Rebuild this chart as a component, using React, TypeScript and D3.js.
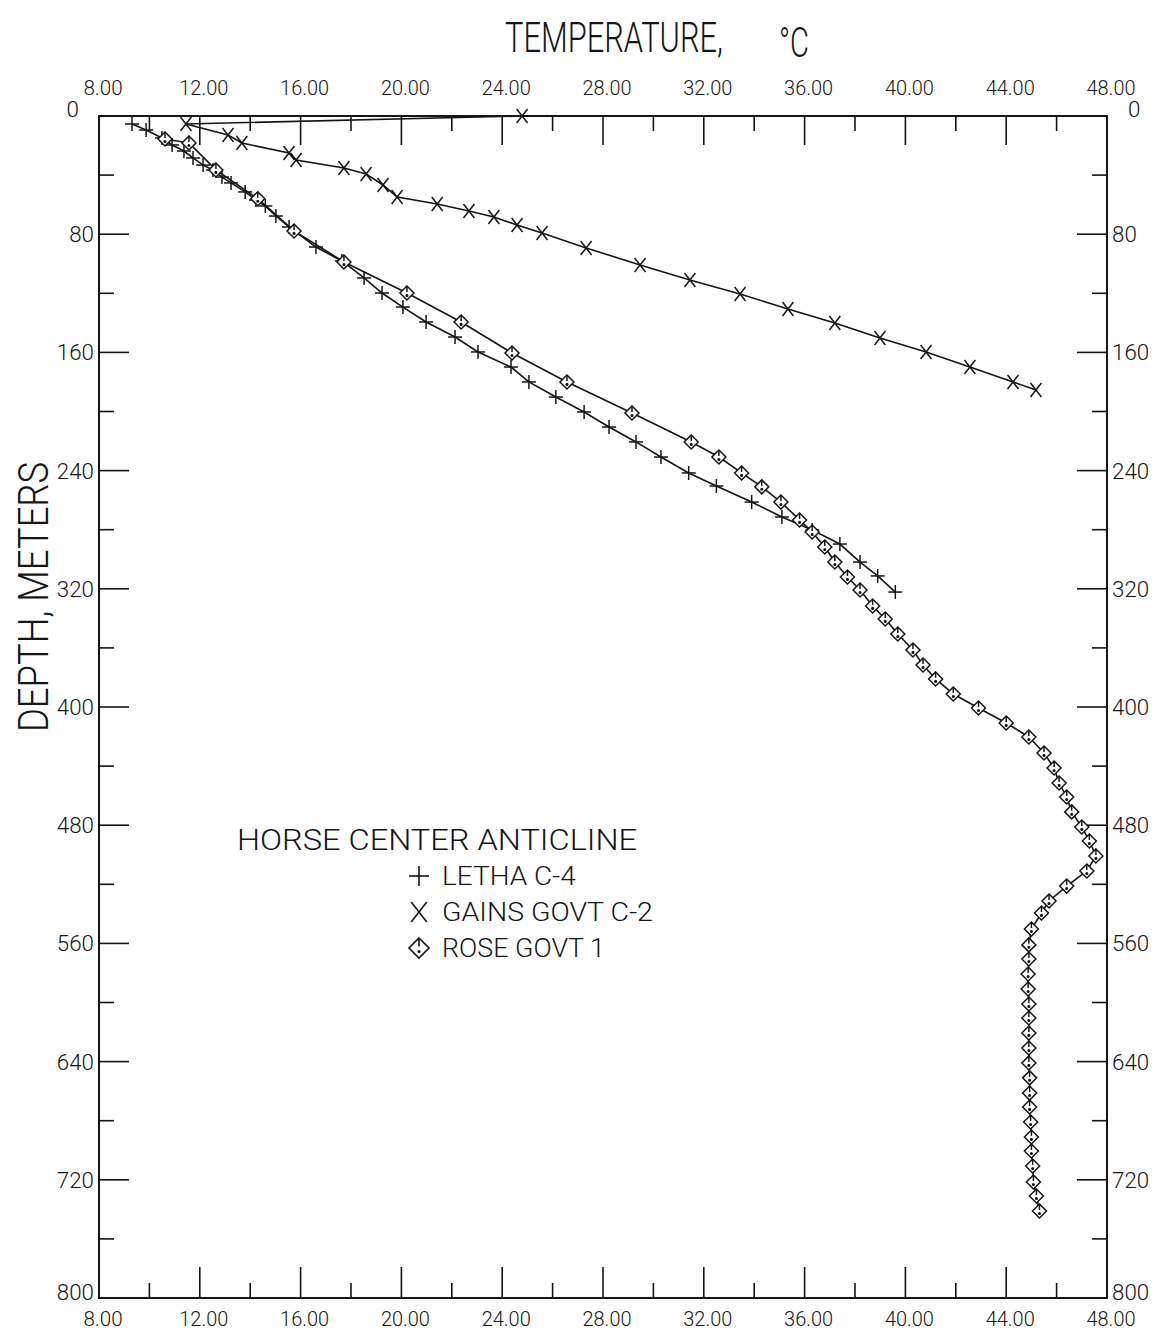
import React, { useLayoutEffect, useRef, useState } from 'react';
import * as d3 from 'd3';

// Temperature axis (°C): labelled major ticks and unlabelled minor ticks
const tempMajorTicks = [8, 12, 16, 20, 24, 28, 32, 36, 40, 44, 48];
const tempMinorTicks = [10, 14, 18, 22, 26, 30, 34, 38, 42, 46];
// Depth axis (m)
const depthMajorTicks = [0, 80, 160, 240, 320, 400, 480, 560, 640, 720, 800];
const depthMinorTicks = [40, 120, 200, 280, 360, 440, 520, 600, 680, 760];

// Well temperature logs: [temperature °C, depth m]
const lethaC4: [number, number][] = [
  [9.31, 5.4], [9.87, 9.5], [10.5, 14.9], [10.9, 19.6], [11.37, 23.7], [11.73, 28.4],
  [12.13, 33.2], [12.52, 36.5], [12.88, 41.3], [13.24, 45.3], [13.8, 51.4], [14.23, 56.9],
  [14.6, 60.9], [15.02, 67.7], [15.54, 75.1], [16.61, 88.7], [17.64, 98.1], [18.52, 109.6],
  [19.23, 119.8], [20.06, 129.3], [20.98, 139.4], [22.13, 149.6], [23.04, 159.7], [24.35, 169.9],
  [25.06, 180], [26.13, 190.2], [27.25, 200.3], [28.24, 210.5], [29.31, 220.6], [30.3, 230.8],
  [31.4, 241.6], [32.5, 250.4], [33.9, 261.3], [35.1, 271.4], [36.3, 280.2], [37.4, 289.7],
  [38.2, 301.9], [38.9, 311.3], [39.6, 322.2],
];

const gainsGovtC2: [number, number][] = [
  [24.79, 0], [11.45, 5.4], [13.12, 12.9], [13.67, 18.3], [15.54, 25], [15.82, 29.8],
  [17.72, 35.2], [18.6, 39.3], [19.27, 46.7], [19.83, 54.8], [21.42, 59.6], [22.68, 64.3],
  [23.67, 68.4], [24.59, 73.8], [25.58, 79.2], [27.33, 89.3], [29.47, 100.8], [31.45, 111],
  [33.44, 120.5], [35.34, 130.6], [37.2, 140.1], [38.99, 150.3], [40.82, 159.7], [42.56, 169.9],
  [44.27, 180], [45.18, 185.4],
];

const roseGovt1: [number, number][] = [
  [10.62, 15.6], [11.57, 18.3], [12.64, 36.5], [14.3, 56], [15.74, 77.8], [17.72, 98.8],
  [20.22, 119.8], [22.37, 139.4], [24.39, 160.4], [26.57, 180], [29.15, 201], [31.5, 220.6],
  [32.6, 230.8], [33.5, 241.6], [34.3, 251], [35.06, 261.3], [35.8, 273.4], [36.3, 281.6],
  [36.8, 291.7], [37.2, 301.9], [37.7, 312], [38.2, 320.8], [38.7, 331.6], [39.2, 340.4],
  [39.7, 350.6], [40.3, 361.4], [40.7, 371.6], [41.2, 381], [41.9, 391.2], [42.9, 400.7],
  [44.0, 410.8], [44.9, 420.3], [45.5, 431.1], [45.9, 441.3], [46.1, 451.4], [46.4, 460.9],
  [46.6, 471], [47.0, 481.2], [47.3, 490.7], [47.56, 500.8], [47.2, 511], [46.4, 521.2],
  [45.7, 531.3], [45.4, 539.4], [45.0, 550.3], [44.9, 561], [44.9, 570.6], [44.87, 580.7],
  [44.87, 590.9], [44.9, 601], [44.9, 610.5], [44.9, 620.6], [44.9, 630.8], [44.9, 640.9],
  [44.93, 651], [44.93, 661.3], [44.93, 670.7], [44.97, 680.9], [45.0, 691], [45.0, 700.5],
  [45.05, 710.7], [45.08, 721.5], [45.2, 731], [45.32, 741.1],
];

const INK = '#151515';
const FONT = 'Roboto, "DejaVu Sans", sans-serif';
const WEIGHT = 300;

const x = d3.scaleLinear().domain([8, 48]).range([99, 1107]);
const y = d3.scaleLinear().domain([0, 800]).range([116, 1298]);

const line = d3
  .line<[number, number]>()
  .x((d) => x(d[0]))
  .y((d) => y(d[1]));

type MarkerKind = 'plus' | 'cross' | 'diamond';

function Marker({ kind, cx, cy, r }: { kind: MarkerKind; cx: number; cy: number; r: number }) {
  if (kind === 'plus') {
    return (
      <g transform={`translate(${cx},${cy})`}>
        <line x1={-r} y1={0} x2={r} y2={0} />
        <line x1={0} y1={-r} x2={0} y2={r} />
      </g>
    );
  }
  if (kind === 'cross') {
    const a = r * 0.78;
    return (
      <g transform={`translate(${cx},${cy})`}>
        <line x1={-a} y1={-r} x2={a} y2={r} />
        <line x1={-a} y1={r} x2={a} y2={-r} />
      </g>
    );
  }
  return (
    <g transform={`translate(${cx},${cy})`}>
      <path d={`M0,${-r}L${r},0L0,${r}L${-r},0Z`} fill="white" />
      <line x1={0} y1={-r} x2={0} y2={-r * 0.15} />
      <circle cx={0} cy={r * 0.35} r={0.8} fill={INK} />
    </g>
  );
}

// Text squeezed horizontally to a target width, like the narrow plotter lettering
function Label({
  x: tx, y: ty, text, size, width, anchor = 'start', rotate = 0,
}: {
  x: number; y: number; text: string; size: number; width: number;
  anchor?: 'start' | 'middle' | 'end'; rotate?: number;
}) {
  const ref = useRef<SVGTextElement>(null);
  const [sx, setSx] = useState(0.75);
  useLayoutEffect(() => {
    if (ref.current) {
      const w = ref.current.getBBox().width;
      if (w > 0) setSx(width / w);
    }
  }, [text, size, width]);
  return (
    <text
      ref={ref}
      x={0}
      y={0}
      fontSize={size}
      fontFamily={FONT}
      fontWeight={WEIGHT}
      textAnchor={anchor}
      fill={INK}
      stroke="none"
      transform={`translate(${tx},${ty})${rotate ? ` rotate(${rotate})` : ''} scale(${sx},1)`}
    >
      {text}
    </text>
  );
}

const series: { data: [number, number][]; kind: MarkerKind }[] = [
  { data: gainsGovtC2, kind: 'cross' },
  { data: lethaC4, kind: 'plus' },
  { data: roseGovt1, kind: 'diamond' },
];

const legendItems: { kind: MarkerKind; label: string; width: number }[] = [
  { kind: 'plus', label: 'LETHA C-4', width: 134 },
  { kind: 'cross', label: 'GAINS GOVT C-2', width: 211 },
  { kind: 'diamond', label: 'ROSE GOVT 1', width: 163 },
];

export default function App() {
  const fmt = d3.format('.2f');
  const [x0, x1] = x.range();
  const [y0, y1] = y.range();

  return (
    <svg
      width={1161}
      height={1342}
      viewBox="0 0 1161 1342"
      style={{ position: 'absolute', left: 0, top: 0, background: 'white' }}
    >
      <rect x={0} y={0} width={1161} height={1342} fill="white" />

      {/* Frame */}
      <rect x={x0} y={y0} width={x1 - x0} height={y1 - y0} fill="none" stroke={INK} strokeWidth={2} />

      {/* Ticks on all four sides, pointing inward */}
      <g stroke={INK} strokeWidth={1.6}>
        {tempMajorTicks.slice(1, -1).map((t) => (
          <g key={`tM${t}`}>
            <line x1={x(t)} x2={x(t)} y1={y0} y2={y0 + 29} />
            <line x1={x(t)} x2={x(t)} y1={y1} y2={y1 - 31} />
          </g>
        ))}
        {tempMinorTicks.map((t) => (
          <g key={`tm${t}`}>
            <line x1={x(t)} x2={x(t)} y1={y0} y2={y0 + 15} />
            <line x1={x(t)} x2={x(t)} y1={y1} y2={y1 - 15} />
          </g>
        ))}
        {depthMajorTicks.slice(1, -1).map((d) => (
          <g key={`dM${d}`}>
            <line x1={x0} x2={x0 + 30} y1={y(d)} y2={y(d)} />
            <line x1={x1} x2={x1 - 30} y1={y(d)} y2={y(d)} />
          </g>
        ))}
        {depthMinorTicks.map((d) => (
          <g key={`dm${d}`}>
            <line x1={x0} x2={x0 + 15} y1={y(d)} y2={y(d)} />
            <line x1={x1} x2={x1 - 15} y1={y(d)} y2={y(d)} />
          </g>
        ))}
      </g>

      {/* Temperature tick labels */}
      {tempMajorTicks.map((t) => {
        const s = fmt(t);
        const w = s.length * 9.8;
        return (
          <g key={`tl${t}`}>
            <Label x={x(t) + 4} y={95} text={s} size={21} width={w} anchor="middle" />
            <Label x={x(t) + 4} y={1326} text={s} size={21} width={w} anchor="middle" />
          </g>
        );
      })}

      {/* Depth tick labels */}
      {depthMajorTicks.map((d) => {
        const s = String(d);
        const w = s.length * 12.4;
        const by = d === 0 ? y(d) + 1 : d === 800 ? y(d) + 2 : y(d) + 8;
        return (
          <g key={`dl${d}`}>
            <Label x={d === 0 ? 79 : 94} y={by} text={s} size={22} width={w} anchor="end" />
            <Label x={d === 0 ? 1128 : 1112} y={by} text={s} size={22} width={w} anchor="start" />
          </g>
        );
      })}

      {/* Axis titles */}
      <Label x={505} y={52} text="TEMPERATURE," size={42} width={218} />
      <Label x={779} y={57} text="°C" size={42} width={30} />
      <Label x={48} y={732} text="DEPTH, METERS" size={42} width={270} rotate={-90} />

      {/* Profiles */}
      <g fill="none" stroke={INK} strokeWidth={1.6}>
        {series.map((s) => (
          <path key={s.kind} d={line(s.data) ?? ''} />
        ))}
      </g>
      <g fill="none" stroke={INK} strokeWidth={1.5}>
        {series.map((s) =>
          s.data.map((d, i) => (
            <Marker key={`${s.kind}${i}`} kind={s.kind} cx={x(d[0])} cy={y(d[1])} r={7} />
          )),
        )}
      </g>

      {/* Legend */}
      <Label x={237} y={850} text="HORSE CENTER ANTICLINE" size={30} width={400} />
      {legendItems.map((item, i) => {
        const base = 885 + i * 36;
        return (
          <g key={item.label}>
            <g fill="none" stroke={INK} strokeWidth={1.6}>
              <Marker kind={item.kind} cx={419} cy={base - 9} r={10} />
            </g>
            <Label x={442} y={base} text={item.label} size={26} width={item.width} />
          </g>
        );
      })}
    </svg>
  );
}
